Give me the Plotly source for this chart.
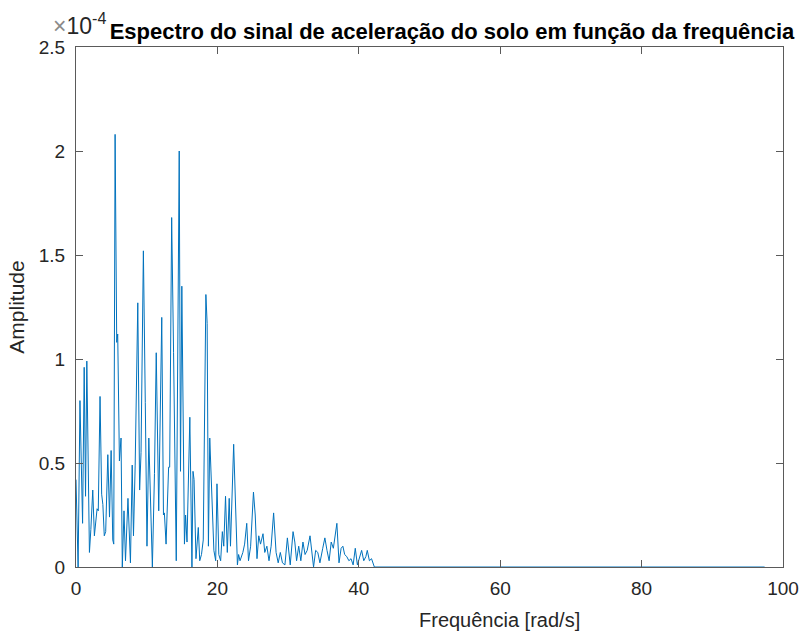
import plotly.graph_objects as go

# Frequency [rad/s] and amplitude (units of 1e-4)
freq = [0.0, 0.15, 0.3, 0.56, 0.93, 1.16, 1.35, 1.53, 1.72, 1.9, 2.1, 2.37, 2.6, 2.8, 2.98, 3.15,
        3.4, 3.63, 3.8, 4.0, 4.2, 4.5, 4.74, 4.97, 5.2, 5.34, 5.53, 5.76, 5.9, 6.14, 6.37, 6.55,
        6.79, 7.0, 7.35, 7.7, 7.95, 8.13, 8.37, 8.74, 9.0, 9.2, 9.53, 9.8, 10.04, 10.3, 10.55, 10.8,
        11.1, 11.35, 11.7, 11.9, 12.13, 12.37, 12.5, 12.74, 13.1, 13.25, 13.53, 13.8, 14.18, 14.6,
        14.78, 14.97, 15.34, 15.5, 15.7, 16.1, 16.4, 16.55, 16.7, 16.97, 17.3, 17.5, 17.75, 18.0,
        18.37, 18.55, 18.73, 18.92, 19.1, 19.5, 19.76, 19.94, 20.2, 20.46, 20.7, 20.9, 21.15, 21.4,
        21.67, 21.85, 22.3, 22.55, 22.83, 23.0, 23.2, 23.6, 23.85, 24.15, 24.4, 24.7, 25.1, 25.35,
        25.6, 25.85, 26.1, 26.45, 26.7, 27.0, 27.3, 27.6, 27.95, 28.3, 28.6, 28.9, 29.2, 29.55,
        29.9, 30.3, 30.7, 30.95, 31.2, 31.5, 31.8, 32.1, 32.4, 32.7, 33.1, 33.6, 33.9, 34.2, 34.5,
        34.9, 35.2, 35.5, 35.8, 36.1, 36.4, 36.9, 37.2, 37.5, 37.75, 38.0, 38.3, 38.6, 38.9, 39.2,
        39.5, 39.8, 40.1, 40.4, 40.7, 41.0, 41.2, 41.5, 41.8, 42.2, 97.4]
amp_e4 = [0.42, 0.25, 0.0, 0.80, 0.21, 0.96, 0.34, 0.99, 0.45, 0.07, 0.18, 0.37, 0.15, 0.22, 0.28, 0.27,
          0.82, 0.35, 0.30, 0.15, 0.17, 0.54, 0.24, 0.56, 0.13, 0.11, 2.08, 1.08, 1.12, 0.51, 0.62, 0.0,
          0.27, 0.03, 0.33, 0.02, 0.49, 0.15, 0.49, 1.27, 0.37, 0.55, 1.52, 0.79, 0.10, 0.62, 0.30, 0.0,
          0.45, 1.03, 0.27, 0.80, 1.20, 0.25, 0.26, 0.11, 0.48, 0.48, 1.68, 1.03, 0.03, 2.00,
          0.46, 1.35, 0.11, 0.25, 0.12, 0.72, 0.0, 0.46, 0.42, 0.04, 0.19, 0.03, 0.06, 0.13,
          1.31, 1.17, 0.10, 0.62, 0.45, 0.08, 0.03, 0.40, 0.06, 0.03, 0.17, 0.10, 0.34, 0.07,
          0.33, 0.10, 0.59, 0.31, 0.01, 0.06, 0.03, 0.07, 0.11, 0.21, 0.03, 0.10, 0.36, 0.25,
          0.04, 0.15, 0.11, 0.16, 0.07, 0.10, 0.03, 0.10, 0.26, 0.07, 0.02, 0.07, 0.02, 0.01,
          0.14, 0.01, 0.17, 0.12, 0.03, 0.10, 0.03, 0.12, 0.06, 0.08, 0.15, 0.0, 0.08, 0.07, 0.02,
          0.09, 0.14, 0.08, 0.03, 0.12, 0.09, 0.21, 0.02, 0.09, 0.10, 0.06, 0.05, 0.03, 0.04, 0.01,
          0.09, 0.01, 0.05, 0.08, 0.03, 0.05, 0.08, 0.03, 0.04, 0.0, 0.0]

x_ticks = [0, 20, 40, 60, 80, 100]
y_ticks = [0, 0.5, 1, 1.5, 2, 2.5]
y_ticktext = ["0", "0.5", "1", "1.5", "2", "2.5"]

title_text = "Espectro do sinal de aceleração do solo em função da frequência"
xlabel = "Frequência [rad/s]"
ylabel = "Amplitude"

FONT = "Liberation Sans, Arial, sans-serif"
AXC = "#5a5a5a"
TXT = "#262626"

fig = go.Figure()
fig.add_trace(go.Scatter(x=freq, y=amp_e4, mode="lines",
                         line=dict(color="#0072BD", width=1), hoverinfo="skip"))

axis_common = dict(showgrid=False, zeroline=False, showline=True, linecolor=AXC, linewidth=1,
                   mirror="allticks", ticks="inside", ticklen=7, tickcolor=AXC, tickwidth=1,
                   tickfont=dict(family=FONT, size=19, color=TXT))

fig.update_layout(
    width=811, height=632,
    margin=dict(l=76, r=18, t=47, b=65),
    paper_bgcolor="white", plot_bgcolor="white",
    showlegend=False,
    title=dict(text="<b>" + title_text + "</b>", x=452 / 811, xanchor="center",
               y=1 - 31 / 632, yanchor="middle",
               font=dict(family=FONT, size=22, color="black")),
    xaxis=dict(range=[0, 100], tickvals=x_ticks, ticklabelstandoff=4, **axis_common),
    yaxis=dict(range=[0, 2.5], tickvals=y_ticks, ticktext=y_ticktext, ticklabelstandoff=6, **axis_common,
               title=dict(text=ylabel, font=dict(family=FONT, size=21, color=TXT), standoff=8)),
)

# x-axis label (placed as in the reference)
fig.add_annotation(text=xlabel, xref="paper", yref="paper", x=(505 - 76) / 717, y=(567 - 620) / 520,
                   xanchor="center", yanchor="middle", showarrow=False,
                   font=dict(family=FONT, size=20, color=TXT))

# exponent marker
fig.add_annotation(text="<span style='color:#8a8a8a'>×</span>10<sup>-4</sup>", xref="paper", yref="paper",
                   x=(108 - 76) / 717, y=1.0, xanchor="right", yanchor="bottom", showarrow=False,
                   yshift=6, font=dict(family=FONT, size=23, color=TXT))

fig.write_html("out.html")
